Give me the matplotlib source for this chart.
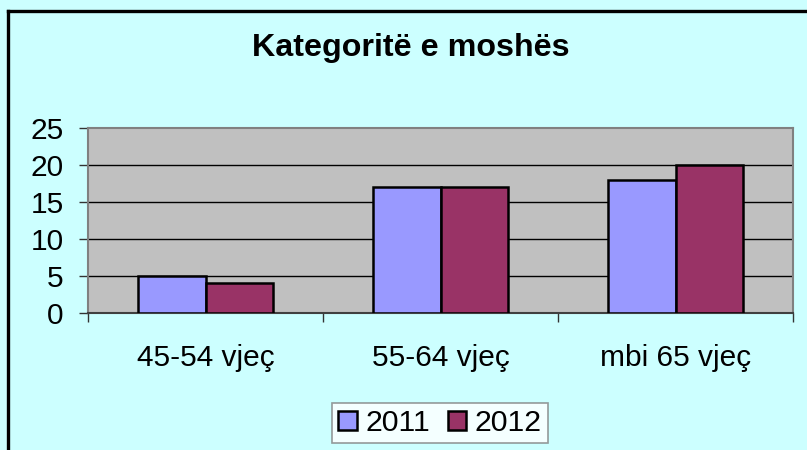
import numpy as np
import matplotlib
matplotlib.use('Agg')
import matplotlib.pyplot as plt
from matplotlib.lines import Line2D

categories = ['45-54 vjeç', '55-64 vjeç', 'mbi 65 vjeç']
series_names = ['2011', '2012']
values_2011 = [5, 17, 18]
values_2012 = [4, 17, 20]
colors = ['#9999FF', '#993366']

plt.rcParams['font.family'] = ['Liberation Sans', 'DejaVu Sans']

W, H = 807, 450
fig = plt.figure(figsize=(W / 100, H / 100), dpi=100)
fig.patch.set_facecolor('#CCFFFF')

ax = fig.add_axes([88 / W, 1 - 313 / H, (793 - 88) / W, (313 - 128) / H])
ax.set_facecolor('#C0C0C0')

x = np.arange(len(categories))
# gap width 150% as in Excel
bw = 1 / 3.5
b1 = ax.bar(x - bw / 2, values_2011, bw, color=colors[0], edgecolor='black', linewidth=1.8, zorder=3)
b2 = ax.bar(x + bw / 2, values_2012, bw, color=colors[1], edgecolor='black', linewidth=1.8, zorder=3)

ax.set_xlim(-0.5, len(categories) - 0.5)
ax.set_ylim(0, 25)
ax.set_yticks([0, 5, 10, 15, 20, 25])
ax.tick_params(axis='y', labelsize=21.5, length=6.5, width=1, color='#333333', pad=11)

# category boundaries get the tick marks, labels sit in the middle
ax.set_xticks(np.arange(-0.5, len(categories), 1))
ax.set_xticklabels([])
ax.tick_params(axis='x', which='major', length=6.5, width=1, color='#333333')
ax.set_xticks(x, minor=True)
ax.set_xticklabels(categories, minor=True, fontsize=21.5)
ax.tick_params(axis='x', which='minor', length=0, pad=22)

for v in [5, 10, 15, 20]:
    ax.axhline(v, color='black', lw=1, zorder=1)

for s in ax.spines.values():
    s.set_color('#808080')
    s.set_linewidth(1.5)
ax.spines['bottom'].set_color('#404040')

fig.text(411 / W, 1 - 48 / H, 'Kategoritë e moshës', fontsize=23.2, fontweight='bold',
         ha='center', va='center')

leg = ax.legend([b1, b2], series_names, loc='center', bbox_to_anchor=(440 / W, 1 - 423 / H),
                bbox_transform=fig.transFigure, ncol=2, fontsize=21.8, frameon=True, fancybox=False,
                handlelength=0.6, handleheight=0.6, handletextpad=0.28, columnspacing=0.6,
                borderpad=0.2, borderaxespad=0)
leg.get_frame().set_edgecolor('#808080')
leg.get_frame().set_linewidth(1.2)
leg.get_frame().set_facecolor('white')

# chart border (only top and left edges are inside the picture)
fig.add_artist(Line2D([8 / W, 8 / W], [0, 1 - 11 / H], color='black', lw=2.4, transform=fig.transFigure))
fig.add_artist(Line2D([8 / W, 1], [1 - 11 / H, 1 - 11 / H], color='black', lw=2.4, transform=fig.transFigure))

fig.savefig('out.png', dpi=100, facecolor=fig.get_facecolor())
